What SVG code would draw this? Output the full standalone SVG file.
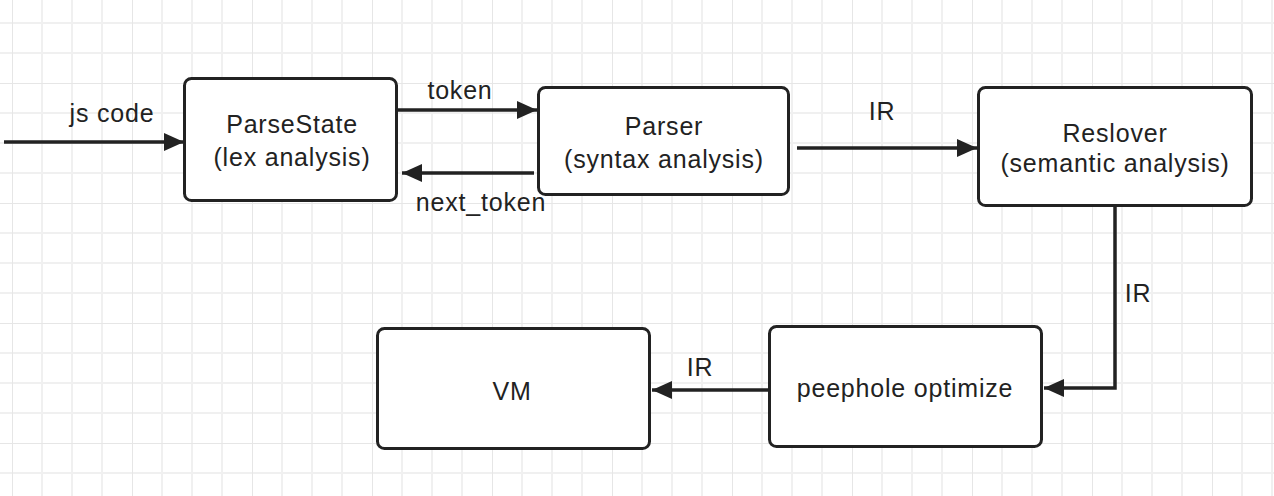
<svg xmlns="http://www.w3.org/2000/svg" width="1274" height="496" viewBox="0 0 1274 496">
  <defs>
    <pattern id="grid" patternUnits="userSpaceOnUse" x="12" y="83" width="120" height="120">
      <path d="M30,0 V120 M60,0 V120 M90,0 V120 M0,30 H120 M0,60 H120 M0,90 H120" stroke="#f0f0f0" stroke-width="2" fill="none"/>
      <path d="M0,0 V120 M0,0 H120" stroke="#e6e6e6" stroke-width="2" fill="none"/>
    </pattern>
    <marker id="arrow" markerUnits="userSpaceOnUse" markerWidth="21" markerHeight="18" refX="20" refY="9" orient="auto">
      <path d="M0,0 L20,9 L0,18 Z" fill="#222"/>
    </marker>
  </defs>
  <style>
    .node rect { fill: #ffffff; stroke: #222; stroke-width: 3; }
    text { font-family: "Liberation Sans", Arial, sans-serif; font-size: 25px; fill: #222; letter-spacing: 0.8px; text-anchor: middle; }
    .conn path { fill: none; stroke: #222; stroke-width: 3.5; marker-end: url(#arrow); }
  </style>
  <rect x="0" y="0" width="1274" height="496" fill="#ffffff"/>
  <rect x="0" y="0" width="1274" height="496" fill="url(#grid)"/>

  <g id="connectors" class="conn">
    <path d="M4,142 H184"/>
    <path d="M398,110 H537"/>
    <path d="M534,173 H402"/>
    <path d="M797,148 H977"/>
    <path d="M1115,207 V388 H1044"/>
    <path d="M768,390 H652"/>
  </g>

  <g id="labels">
    <text x="112" y="122">js code</text>
    <text x="460" y="99">token</text>
    <text x="481" y="211">next_token</text>
    <text x="882" y="120">IR</text>
    <text x="1138" y="302">IR</text>
    <text x="700" y="376">IR</text>
  </g>

  <g id="parsestate" class="node">
    <rect x="184.5" y="78.5" width="212" height="122" rx="7"/>
    <text x="292" y="133">ParseState</text>
    <text x="292" y="166">(lex analysis)</text>
  </g>
  <g id="parser" class="node">
    <rect x="538.5" y="87.5" width="250" height="107" rx="7"/>
    <text x="664" y="135">Parser</text>
    <text x="664" y="168">(syntax analysis)</text>
  </g>
  <g id="reslover" class="node">
    <rect x="978.5" y="87.5" width="273" height="118" rx="7"/>
    <text x="1115" y="142">Reslover</text>
    <text x="1115" y="172">(semantic analysis)</text>
  </g>
  <g id="peephole" class="node">
    <rect x="769.5" y="326.5" width="272" height="120" rx="7"/>
    <text x="905" y="397">peephole optimize</text>
  </g>
  <g id="vm" class="node">
    <rect x="377.5" y="328.5" width="272" height="120" rx="7"/>
    <text x="512" y="400">VM</text>
  </g>
</svg>
